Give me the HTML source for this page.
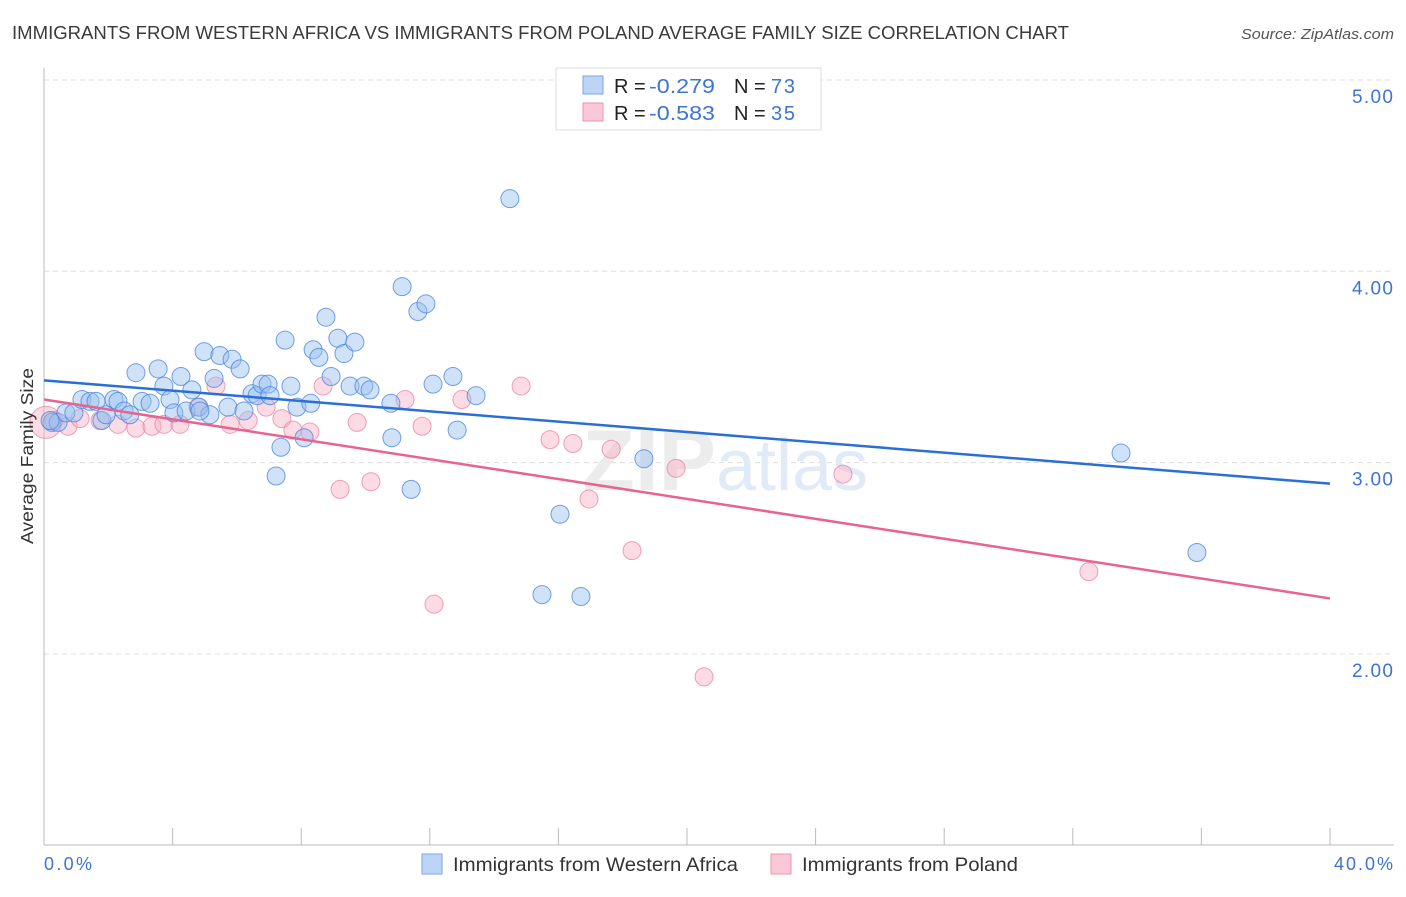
<!DOCTYPE html>
<html><head><meta charset="utf-8"><style>
body{margin:0;background:#fff;font-family:"Liberation Sans",sans-serif;}
svg text{font-family:"Liberation Sans",sans-serif;}
</style></head><body>
<svg id="chart" width="1406" height="892" viewBox="0 0 1406 892">
<text x="12" y="39" font-size="18" fill="#3a3a3a" textLength="1057" lengthAdjust="spacingAndGlyphs">IMMIGRANTS FROM WESTERN AFRICA VS IMMIGRANTS FROM POLAND AVERAGE FAMILY SIZE CORRELATION CHART</text>
<text x="1241" y="39" font-size="15" fill="#555" font-style="italic" textLength="153" lengthAdjust="spacingAndGlyphs">Source: ZipAtlas.com</text>
<g id="grid"></g>
<text x="716" y="490" font-size="86" fill="#ececec" text-anchor="end" font-family="Liberation Serif" font-weight="bold">ZIP</text>
<text x="716" y="490" font-size="72" fill="#e1ebf7">atlas</text>
<line x1="44" y1="68" x2="44" y2="845" stroke="#bbb"/>
<line x1="44" y1="845" x2="1394" y2="845" stroke="#bbb"/>
<g id="ticks"></g>
<g id="pts"></g>
<g id="lines"></g>
<text x="33" y="456" font-size="17.5" fill="#333" text-anchor="middle" transform="rotate(-90 33 456)" textLength="176" lengthAdjust="spacingAndGlyphs">Average Family Size</text>
<text x="44" y="870" font-size="18" fill="#3d74d0" textLength="48">0.0%</text>
<text x="1334" y="870" font-size="18" fill="#3d74d0" textLength="59">40.0%</text>
<g>
<rect x="556" y="68" width="265" height="62" fill="#fff" stroke="#ddd"/>
<rect x="583" y="76" width="20" height="18" fill="#bcd4f5" stroke="#7ba6e6"/>
<rect x="583" y="103" width="20" height="18" fill="#fbc8d7" stroke="#ee94b1"/>
<text x="614" y="93" font-size="20" fill="#222">R = </text>
<text x="649" y="93" font-size="20" fill="#3d74d0" textLength="66" lengthAdjust="spacingAndGlyphs">-0.279</text>
<text x="734" y="93" font-size="20" fill="#222">N = </text>
<text x="771" y="93" font-size="20" fill="#3d74d0" textLength="24">73</text>
<text x="614" y="120" font-size="20" fill="#222">R = </text>
<text x="649" y="120" font-size="20" fill="#3d74d0" textLength="66" lengthAdjust="spacingAndGlyphs">-0.583</text>
<text x="734" y="120" font-size="20" fill="#222">N = </text>
<text x="771" y="120" font-size="20" fill="#3d74d0" textLength="24">35</text>
</g>
<g>
<rect x="422" y="854" width="20" height="20" fill="#bcd4f5" stroke="#7ba6e6"/>
<text x="453" y="871" font-size="19.5" fill="#333" textLength="285" lengthAdjust="spacingAndGlyphs">Immigrants from Western Africa</text>
</g>
<g>
<rect x="771" y="854" width="20" height="20" fill="#fbc8d7" stroke="#ee94b1"/>
<text x="802" y="871" font-size="19.5" fill="#333" textLength="216" lengthAdjust="spacingAndGlyphs">Immigrants from Poland</text>
</g>
</svg>
<script>
const yTicks=[5,4,3,2];
const yTickLabels=["5.00","4.00","3.00","2.00"];
const xTicks=[0,4,8,12,16,20,24,28,32,36,40];
const blueX=[0.25,0.44,0.68,0.93,1.18,1.43,1.62,1.80,1.93,2.18,2.30,2.49,2.86,3.05,3.30,3.55,3.73,3.92,4.04,4.26,4.42,4.60,4.82,4.98,5.16,5.29,5.47,5.72,5.85,6.10,6.22,6.47,6.63,6.78,6.97,7.22,7.37,7.50,7.68,7.87,8.09,8.30,8.37,8.55,8.77,8.93,9.14,9.33,9.52,9.67,9.95,10.14,10.79,10.82,11.14,11.42,11.63,11.88,12.10,12.72,12.85,13.44,14.49,16.05,15.49,16.70,18.66,33.50,35.86,0.19,2.67,4.85,7.03];
const blueY=[3.21,3.21,3.26,3.26,3.33,3.32,3.32,3.22,3.25,3.33,3.32,3.27,3.47,3.32,3.31,3.49,3.40,3.33,3.26,3.45,3.27,3.38,3.29,3.58,3.25,3.44,3.56,3.29,3.54,3.49,3.27,3.36,3.35,3.41,3.41,2.93,3.08,3.64,3.40,3.29,3.13,3.31,3.59,3.55,3.76,3.45,3.65,3.57,3.40,3.63,3.40,3.38,3.31,3.13,3.92,2.86,3.79,3.83,3.41,3.45,3.17,3.35,4.38,2.73,2.31,2.30,3.02,3.05,2.53,3.22,3.25,3.27,3.35];
const pinkX=[0.06,0.31,0.75,1.12,1.74,2.30,2.86,3.36,3.73,4.23,4.79,5.35,5.79,6.35,6.91,7.40,7.74,8.27,8.68,9.21,9.74,10.17,11.23,11.76,12.13,13.00,14.84,15.74,16.45,16.95,17.64,18.29,19.66,20.53,24.85,32.50];
const pinkY=[3.21,3.22,3.19,3.23,3.22,3.20,3.18,3.19,3.20,3.20,3.29,3.40,3.20,3.22,3.29,3.23,3.17,3.16,3.40,2.86,3.21,2.90,3.33,3.19,2.26,3.33,3.40,3.12,3.10,2.81,3.07,2.54,2.97,1.88,2.94,2.43];
const blueTrend=[3.43,2.89];
const pinkTrend=[3.33,2.29];
const NS="http://www.w3.org/2000/svg";
function sx(v){return 44+v*32.15;}
function sy(v){return 80+(5-v)*191.3;}
function mk(tag,attrs,parent){const e=document.createElementNS(NS,tag);for(const k in attrs)e.setAttribute(k,attrs[k]);parent.appendChild(e);return e;}
const grid=document.getElementById('grid');
yTicks.forEach((t,i)=>{
 const l=mk('line',{x1:44,x2:1394,y1:sy(t),y2:sy(t),stroke:'#ddd','stroke-dasharray':'5,4'},grid);
 
 
 const tx=mk('text',{x:1352,y:sy(t)+23,'font-size':19,fill:'#3d74d0',textLength:41},grid);
 tx.textContent=yTickLabels[i];
 
 
});
const ticks=document.getElementById('ticks');
xTicks.forEach(t=>{
 const l=mk('line',{x1:sx(t),x2:sx(t),y1:828,y2:845,stroke:'#bbb'},ticks);
 
 
});
const pts=document.getElementById('pts');
pinkX.forEach((x,i)=>{
 const c=mk('circle',{cx:sx(x),cy:sy(pinkY[i]),r:i===0?16:9,fill:'rgba(248,176,198,0.45)',stroke:'rgba(234,130,164,0.75)','stroke-width':1},pts);
 
 
});
blueX.forEach((x,i)=>{
 const c=mk('circle',{cx:sx(x),cy:sy(blueY[i]),r:9,fill:'rgba(150,190,240,0.45)',stroke:'rgba(70,130,220,0.75)','stroke-width':1},pts);
 
 
});
const lines=document.getElementById('lines');
const bl=mk('line',{x1:sx(0),y1:sy(blueTrend[0]),x2:sx(40),y2:sy(blueTrend[1]),stroke:'#2a6fd6','stroke-width':2.5},lines);


const pl=mk('line',{x1:sx(0),y1:sy(pinkTrend[0]),x2:sx(40),y2:sy(pinkTrend[1]),stroke:'#e8648e','stroke-width':2.5},lines);


</script>
</body></html>
